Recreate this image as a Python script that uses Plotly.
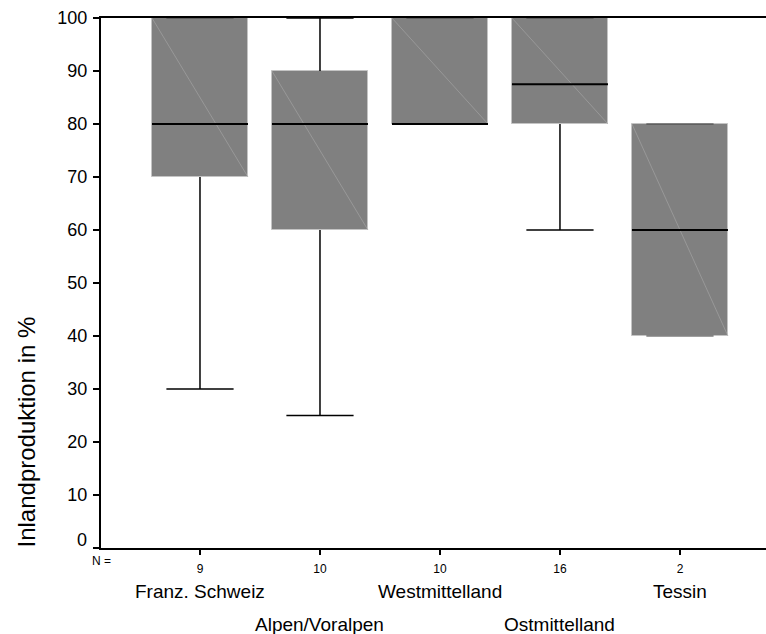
import plotly.graph_objects as go

categories = ["Franz. Schweiz", "Alpen/Voralpen", "Westmittelland", "Ostmittelland", "Tessin"]
n_counts = [9, 10, 10, 16, 2]
lower_whisker = [30, 25, 80, 60, 40]
q1 = [70, 60, 80, 80, 40]
median = [80, 80, 80, 87.5, 60]
q3 = [100, 90, 100, 100, 80]
upper_whisker = [100, 100, 100, 100, 80]
y_ticks = list(range(0, 101, 10))

FONT = "Liberation Sans, Arial, sans-serif"
BOX_W = 0.8
CAP_W = 0.56

xs = list(range(len(categories)))
fig = go.Figure()

# boxes as bars
fig.add_trace(go.Bar(
    x=xs, y=[b - a for a, b in zip(q1, q3)], base=q1, width=BOX_W,
    marker=dict(color="#808080", line=dict(color="#c4c4c4", width=1)),
    hoverinfo="skip", showlegend=False,
))

# diagonals
dx, dy = [], []
for i in xs:
    dx += [i - BOX_W / 2, i + BOX_W / 2, None]
    dy += [q3[i], q1[i], None]
fig.add_trace(go.Scatter(x=dx, y=dy, mode="lines",
                         line=dict(color="#a8a8a8", width=0.6),
                         hoverinfo="skip", showlegend=False))

# whiskers and caps
zx, zy = [], []
wx, wy = [], []
for i in xs:
    if upper_whisker[i] > q3[i]:
        wx += [i, i, None, i - CAP_W / 2, i + CAP_W / 2, None]
        wy += [q3[i], upper_whisker[i], None, upper_whisker[i], upper_whisker[i], None]
    else:
        zx += [i - CAP_W / 2, i + CAP_W / 2, None]
        zy += [upper_whisker[i], upper_whisker[i], None]
    if lower_whisker[i] < q1[i]:
        wx += [i, i, None, i - CAP_W / 2, i + CAP_W / 2, None]
        wy += [q1[i], lower_whisker[i], None, lower_whisker[i], lower_whisker[i], None]
    else:
        zx += [i - CAP_W / 2, i + CAP_W / 2, None]
        zy += [lower_whisker[i], lower_whisker[i], None]
fig.add_trace(go.Scatter(x=zx, y=zy, mode="lines",
                         line=dict(color="#404040", width=1.2),
                         hoverinfo="skip", showlegend=False))
fig.add_trace(go.Scatter(x=wx, y=wy, mode="lines",
                         line=dict(color="black", width=1.5),
                         hoverinfo="skip", showlegend=False))

# medians
mx, my = [], []
for i in xs:
    mx += [i - BOX_W / 2, i + BOX_W / 2, None]
    my += [median[i], median[i], None]
fig.add_trace(go.Scatter(x=mx, y=my, mode="lines",
                         line=dict(color="black", width=1.8),
                         hoverinfo="skip", showlegend=False))

# category labels (staggered)
for i, c in enumerate(categories):
    fig.add_annotation(x=i, y=0, xref="x", yref="paper", text=c,
                       showarrow=False, yanchor="top", xanchor="center",
                       yshift=-31 if i % 2 == 0 else -64,
                       font=dict(family=FONT, size=19, color="black"))

fig.add_annotation(x=0, y=0, xref="paper", yref="paper", text="N =",
                   showarrow=False, yanchor="top", xanchor="center",
                   yshift=-4, xshift=0,
                   font=dict(family=FONT, size=12, color="black"))

# "0" label raised above its tick
fig.add_annotation(x=0, y=y_ticks[0], xref="paper", yref="y", text=str(y_ticks[0]),
                   showarrow=False, yanchor="middle", xanchor="right",
                   xshift=-12, yshift=8,
                   font=dict(family=FONT, size=18, color="black"))

# axis title (bottom-aligned with plot)
fig.add_annotation(x=0, y=0, xref="paper", yref="paper",
                   text="Inlandproduktion in %", textangle=-90,
                   showarrow=False, yanchor="bottom", xanchor="center",
                   xshift=-75, yshift=-2,
                   font=dict(family=FONT, size=24, color="black"))

fig.update_layout(
    width=766, height=634,
    margin=dict(l=101, r=0, t=18, b=86),
    plot_bgcolor="white", paper_bgcolor="white",
    font=dict(family=FONT, color="black"),
    xaxis=dict(
        range=[-0.825, 4.717], tickvals=xs, ticktext=[str(n) for n in n_counts],
        showline=True, linecolor="black", linewidth=2, mirror=True,
        ticks="outside", ticklen=5, tickwidth=1.5, tickcolor="black",
        showgrid=False, zeroline=False, ticklabelstandoff=4,
        tickfont=dict(family=FONT, size=12, color="black"),
    ),
    yaxis=dict(
        range=[0, 100], tickvals=y_ticks,
        ticktext=[""] + [str(v) for v in y_ticks[1:]],
        showline=True, linecolor="black", linewidth=2,
        ticks="outside", ticklen=6, tickwidth=1.5, tickcolor="black",
        showgrid=False, zeroline=False, ticklabelstandoff=2,
        tickfont=dict(family=FONT, size=18, color="black"),
    ),
    bargap=0,
)

fig.write_html("out.html")
